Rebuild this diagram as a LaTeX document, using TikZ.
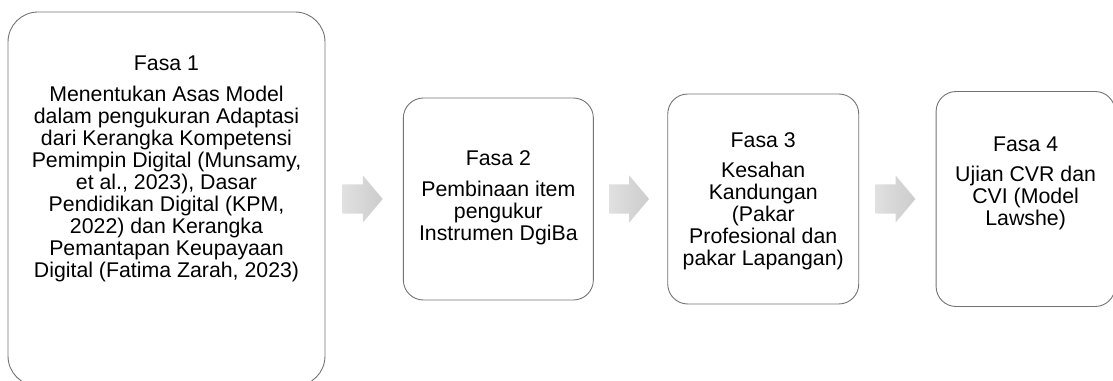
\documentclass[tikz,border=0pt]{standalone}
\usepackage{fontspec}
\setmainfont{Liberation Sans}
\usetikzlibrary{positioning,shapes.arrows}

\begin{document}
\begin{tikzpicture}[x=1pt,y=1pt,
  fasa box/.style={rectangle,draw=black!55,line width=0.9pt,inner sep=0pt},
  fasa text/.style={anchor=north,align=center,inner sep=0pt,font=\fontsize{21.3}{22}\selectfont},
  step arrow/.style={single arrow,draw=none,left color=black!12,right color=black!20,minimum height=40pt,single arrow head extend=9pt,single arrow tip angle=100,inner xsep=0pt,inner ysep=14.5pt}]
  \useasboundingbox (0,0) rectangle (1113,380);
  \node[fasa box,rounded corners=30pt,minimum width=317pt,minimum height=374pt] (f1) at (166.5,181) {};
  \node[step arrow] (a1) [right=17pt of f1] {};
  \node[fasa box,rounded corners=20pt,minimum width=190pt,minimum height=202pt] (f2) [right=20pt of a1] {};
  \node[step arrow] (a2) [right=15pt of f2] {};
  \node[fasa box,rounded corners=20pt,minimum width=191pt,minimum height=210pt] (f3) [right=18pt of a2] {};
  \node[step arrow] (a3) [right=16pt of f3] {};
  \node[fasa box,rounded corners=20pt,minimum width=179pt,minimum height=215pt] (f4) [right=20pt of a3] {};
  \node[fasa text] (t1) [below=44pt of f1.north] {Fasa 1\\[9.5pt] Menentukan Asas Model\\ dalam pengukuran Adaptasi\\ dari Kerangka Kompetensi\\ Pemimpin Digital (Munsamy,\\ et al., 2023), Dasar\\ Pendidikan Digital (KPM,\\ 2022) dan Kerangka\\ Pemantapan Keupayaan\\ Digital (Fatima Zarah, 2023)};
  \node[fasa text] (t2) [below=53pt of f2.north] {Fasa 2\\[9pt] Pembinaan item\\ pengukur\\ Instrumen DgiBa};
  \node[fasa text] (t3) [below=39pt of f3.north] {Fasa 3\\[8pt] Kesahan\\ Kandungan\\ (Pakar\\ Profesional dan\\ pakar Lapangan)};
  \node[fasa text] (t4) [below=46pt of f4.north] {Fasa 4\\[8pt] Ujian CVR dan\\ CVI (Model\\ Lawshe)};
\end{tikzpicture}
\end{document}
